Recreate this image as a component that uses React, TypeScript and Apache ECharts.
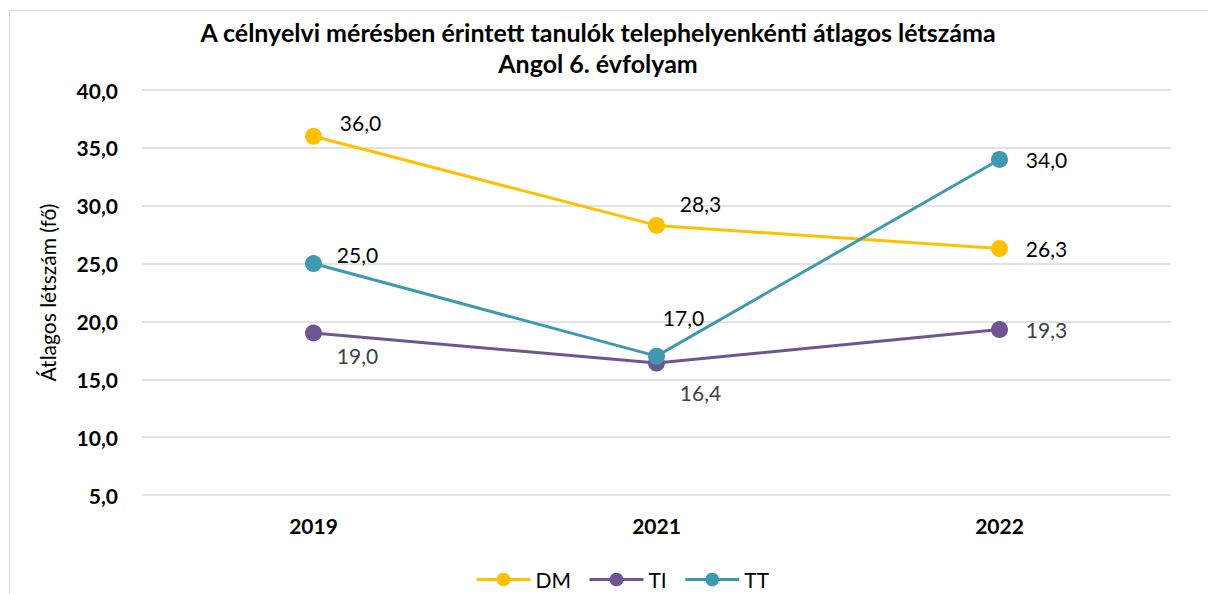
import React, { useEffect, useRef } from "react";
import * as echarts from "echarts";

const categories = ["2019", "2021", "2022"];
const seriesNames = ["DM", "TI", "TT"];
const dmValues = [36.0, 28.3, 26.3];
const tiValues = [19.0, 16.4, 19.3];
const ttValues = [25.0, 17.0, 34.0];
const titleLines = [
  "A célnyelvi mérésben érintett tanulók telephelyenkénti átlagos létszáma",
  "Angol 6. évfolyam",
];
const yAxisName = "Átlagos létszám (fő)";

const FONT = "Lato, 'Open Sans', sans-serif";

export default function App() {
  const ref = useRef<HTMLDivElement>(null);
  useEffect(() => {
    if (!ref.current) return;
    const chart = echarts.init(ref.current, null, { renderer: "svg" });
    const fmt = (v: number) => v.toFixed(1).replace(".", ",");
    const mk = (
      name: string,
      values: number[],
      color: string,
      labelColor: string,
      offsets: number[][]
    ) => ({
      name,
      type: "line",
      data: values.map((v, i) => ({
        value: v,
        label: { offset: offsets[i] },
      })),
      symbol: "circle",
      symbolSize: 17,
      lineStyle: { color, width: 3 },
      itemStyle: { color },
      label: {
        show: true,
        position: "inside",
        align: "center",
        verticalAlign: "middle",
        color: labelColor,
        fontFamily: FONT,
        fontSize: 21,
        formatter: (p: any) => fmt(p.value),
      },
    });
    chart.setOption({
      animation: false,
      backgroundColor: "#ffffff",
      title: {
        text: titleLines.join("\n"),
        left: 598,
        top: 16.5,
        padding: 0,
        textAlign: "center",
        textStyle: {
          fontFamily: FONT,
          fontWeight: "bold",
          fontSize: 25,
          color: "#000000",
          lineHeight: 31,
        },
      },
      graphic: [
        {
          type: "rect",
          shape: { x: 9.5, y: 10.5, width: 1240, height: 640 },
          style: { fill: "none", stroke: "#d9d9d9", lineWidth: 1 },
          silent: true,
        },
      ],
      legend: {
        left: 470,
        top: 564,
        itemWidth: 54,
        itemHeight: 17,
        itemGap: 17,
        lineStyle: { width: 3 },
        textStyle: { fontFamily: FONT, fontSize: 21, color: "#000000" },
        data: seriesNames,
      },
      grid: { left: 142, right: 37, top: 90, bottom: 99 },
      xAxis: {
        type: "category",
        data: categories,
        boundaryGap: true,
        axisLine: { show: false },
        axisTick: { show: false },
        axisLabel: {
          fontFamily: FONT,
          fontWeight: "bold",
          fontSize: 21,
          color: "#000000",
          margin: 20,
        },
      },
      yAxis: {
        type: "value",
        min: 5,
        max: 40,
        interval: 5,
        name: yAxisName,
        nameLocation: "middle",
        nameGap: 84,
        nameTextStyle: { fontFamily: FONT, fontSize: 21, color: "#000000" },
        axisLine: { show: false },
        axisTick: { show: false },
        splitLine: { lineStyle: { color: "#d9d9d9", width: 1.5 } },
        axisLabel: {
          fontFamily: FONT,
          fontWeight: "bold",
          fontSize: 21,
          color: "#000000",
          margin: 24,
          formatter: (v: number) => fmt(v),
        },
      },
      series: [
        mk("DM", dmValues, "#FFC000", "#000000", [
          [47, -14],
          [44, -22],
          [47, 0],
        ]),
        mk("TI", tiValues, "#6F5592", "#404040", [
          [44, 22],
          [44, 29],
          [47, 0],
        ]),
        mk("TT", ttValues, "#3F9AAF", "#000000", [
          [44, -9],
          [27, -39],
          [47, 0],
        ]),
      ],
    });
    return () => chart.dispose();
  }, []);
  return (
    <div
      ref={ref}
      style={{ position: "fixed", left: 0, top: 0, width: 1208, height: 594 }}
    />
  );
}
